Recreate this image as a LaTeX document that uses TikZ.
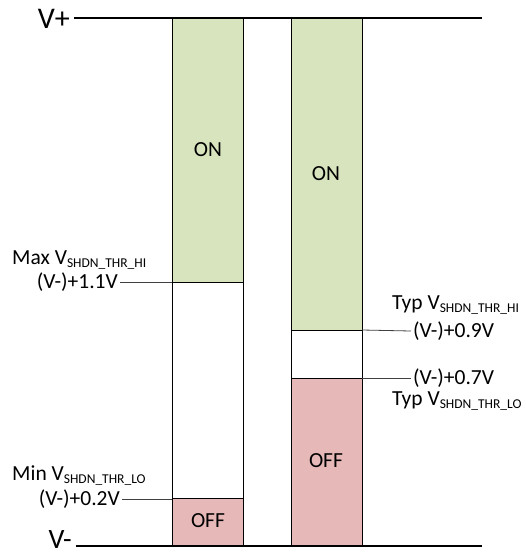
\documentclass[tikz,border=0pt]{standalone}
\usepackage{fontspec}
\setmainfont{Carlito}
\definecolor{ongreen}{RGB}{215,228,189}
\definecolor{offred}{RGB}{230,185,184}
\definecolor{tickgray}{RGB}{64,64,64}
\newcommand{\mysubtxt}[1]{\raisebox{-3pt}{\fontsize{13.5}{14}\selectfont #1}}
\begin{document}
\begin{tikzpicture}[x=1pt,y=-1pt,
  rail/.style={line width=2.4pt},
  zone/.style={draw=black,line width=0.9pt},
  tick/.style={draw=tickgray,line width=0.8pt},
  lbl/.style={inner sep=0pt,font=\fontsize{21.5}{24}\selectfont},
  big/.style={inner sep=0pt,font=\fontsize{30}{32}\selectfont}]
\useasboundingbox (0,0) rectangle (526,554);
% left column
\fill[ongreen] (172,18) rectangle (243,282);
\fill[offred] (172,498) rectangle (243,546);
\draw[zone] (172,18) -- (172,546) (243,18) -- (243,546);
\draw[zone] (172,282) -- (243,282) (172,498) -- (243,498);
% right column
\fill[ongreen] (291,18) rectangle (362,330);
\fill[offred] (291,378) rectangle (362,546);
\draw[zone] (291,18) -- (291,546) (362,18) -- (362,546);
\draw[zone] (291,330) -- (362,330) (291,378) -- (362,378);
% rails
\node[big,anchor=east] (vp) at (70,19) {V+};
\node[big,anchor=east,font=\fontsize{28}{30}\selectfont] (vm) at (72,540) {V-};
\coordinate (vpe) at (482,18);
\coordinate (vme) at (482,546);
\draw[rail] (vp.east) ++(4,-1) -- (vpe);
\draw[rail] (vm.east) ++(4,6) -- (vme);
% zone labels
\node[lbl] (on1) at (208,150) {ON};
\node[lbl] (on2) at (326,174) {ON};
\node[lbl] (off1) at (208,521) {OFF};
\node[lbl] (off2) at (326,461) {OFF};
% left thresholds
\node[lbl,anchor=west] (maxhi) at (12,260) {Max V\mysubtxt{SHDN\_THR\_HI}};
\node[lbl,anchor=east] (v11) at (118,282) {(V-)+1.1V};
\coordinate (c11) at (172,282);
\draw[tick] (v11.east) ++(2,0) -- (c11);
\node[lbl,anchor=west] (minlo) at (12,476) {Min V\mysubtxt{SHDN\_THR\_LO}};
\node[lbl,anchor=east] (v02) at (120,499) {(V-)+0.2V};
\coordinate (c02) at (172,499);
\draw[tick] (v02.east) ++(2,0) -- (c02);
% right thresholds
\node[lbl,anchor=west] (typhi) at (392,305) {Typ V\mysubtxt{SHDN\_THR\_HI}};
\node[lbl,anchor=west] (v09) at (413,331) {(V-)+0.9V};
\coordinate (c09) at (362,330);
\draw[tick] (c09) -- ([xshift=-2pt]v09.west);
\node[lbl,anchor=west] (v07) at (413,378) {(V-)+0.7V};
\coordinate (c07) at (362,378);
\draw[tick] (c07) -- ([xshift=-2pt]v07.west);
\node[lbl,anchor=west] (typlo) at (392,401) {Typ V\mysubtxt{SHDN\_THR\_LO}};
\end{tikzpicture}
\end{document}
